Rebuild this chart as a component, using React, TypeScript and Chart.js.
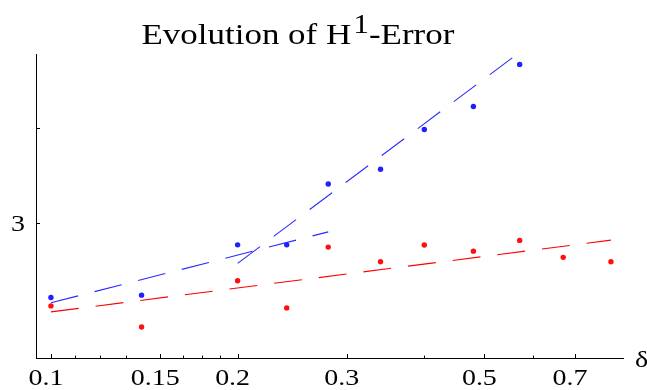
import React, { useEffect, useRef } from "react";
import { Chart, registerables } from "chart.js";

Chart.register(...registerables);

// ---- data ----
const deltas = [0.1, 0.14, 0.2, 0.24, 0.28, 0.34, 0.4, 0.48, 0.57, 0.67, 0.8];
const blueErrors = [2.4, 2.417, 2.813, 2.813, 3.379, 3.532, 3.982, 4.268, 4.846];
const redErrors = [2.34, 2.196, 2.524, 2.326, 2.794, 2.673, 2.811, 2.76, 2.851, 2.709, 2.673];

const redFitX = [0.1, 0.8];
const redFitY = [2.298, 2.853];
const blueFit1X = [0.1, 0.28];
const blueFit1Y = [2.362, 2.925];
const blueFit2X = [0.2, 0.57];
const blueFit2Y = [2.66, 5.025];

const xMajorTicks = [0.1, 0.15, 0.2, 0.3, 0.5, 0.7];
const xTickLabels = ["0.1", "0.15", "0.2", "0.3", "0.5", "0.7"];
const xMinorTicks = [0.1094, 0.1201, 0.1323, 0.1631, 0.1752, 0.1876, 0.4, 0.6];
const yTicks = [3, 4];
const yTickLabels = ["3", ""];
const xRange = [0.0946, 0.8366];
const yRange = [2, 5];

const titleMain = "Evolution of H";
const titleSup = "1";
const titleEnd = "-Error";
const xAxisLabel = "δ";

const SX = 1.165; // horizontal stretch of the reference's text
const SERIF = '"Liberation Serif", "Times New Roman", serif';

function toXY(xs: number[], ys: number[]) {
  return ys.map((y, i) => ({ x: xs[i], y }));
}

function drawText(
  ctx: CanvasRenderingContext2D,
  text: string,
  x: number,
  y: number,
  align: CanvasTextAlign,
  font: string
) {
  ctx.save();
  ctx.translate(x, y);
  ctx.scale(SX, 1);
  ctx.font = font;
  ctx.textAlign = align;
  ctx.textBaseline = "alphabetic";
  ctx.fillStyle = "#000";
  ctx.fillText(text, 0, 0);
  ctx.restore();
}

const decorPlugin = {
  id: "decor",
  afterDraw(chart: any) {
    const ctx: CanvasRenderingContext2D = chart.ctx;
    const xs = chart.scales.x;
    const ys = chart.scales.y;
    const area = chart.chartArea;
    ctx.save();
    ctx.strokeStyle = "#000";
    ctx.lineWidth = 1;
    // x ticks (inside, upward)
    xMajorTicks.forEach((v) => {
      const px = Math.round(xs.getPixelForValue(v)) + 0.5;
      ctx.beginPath();
      ctx.moveTo(px, area.bottom);
      ctx.lineTo(px, area.bottom - 4);
      ctx.stroke();
    });
    xMinorTicks.forEach((v) => {
      const px = Math.round(xs.getPixelForValue(v)) + 0.5;
      ctx.beginPath();
      ctx.moveTo(px, area.bottom);
      ctx.lineTo(px, area.bottom - 2.5);
      ctx.stroke();
    });
    // y ticks (inside, rightward)
    yTicks.forEach((v) => {
      const py = Math.round(ys.getPixelForValue(v)) + 0.5;
      ctx.beginPath();
      ctx.moveTo(area.left, py);
      ctx.lineTo(area.left + 4, py);
      ctx.stroke();
    });
    ctx.restore();

    const tickFont = `24px ${SERIF}`;
    xMajorTicks.forEach((v, i) => {
      const px = xs.getPixelForValue(v);
      drawText(ctx, xTickLabels[i], px - 5, area.bottom + 27, "center", tickFont);
    });
    yTicks.forEach((v, i) => {
      if (!yTickLabels[i]) return;
      const py = ys.getPixelForValue(v);
      drawText(ctx, yTickLabels[i], area.left - 11, py + 8, "right", tickFont);
    });
    drawText(ctx, xAxisLabel, area.right + 12, area.bottom + 9, "left", tickFont);

    // title with superscript
    const tFont = `30px ${SERIF}`;
    const sFont = `27px ${SERIF}`;
    let tx = 141.5;
    const base = 43.5;
    ctx.save();
    ctx.font = tFont;
    const w1 = ctx.measureText(titleMain).width * SX;
    ctx.font = sFont;
    const w2 = ctx.measureText(titleSup).width * SX;
    ctx.restore();
    drawText(ctx, titleMain, tx, base, "left", tFont);
    tx += w1 + 2;
    drawText(ctx, titleSup, tx, base - 11, "left", sFont);
    tx += w2;
    drawText(ctx, titleEnd, tx, base, "left", tFont);
  },
};

export default function App() {
  const ref = useRef<HTMLCanvasElement | null>(null);

  useEffect(() => {
    if (!ref.current) return;
    const dash = [28, 17];
    const chart = new Chart(ref.current, {
      type: "scatter",
      data: {
        datasets: [
          {
            label: "blue",
            data: toXY(deltas, blueErrors),
            showLine: false,
            pointRadius: 2.7,
            pointBorderWidth: 0,
            backgroundColor: "#1f1fff",
            borderColor: "#1f1fff",
          },
          {
            label: "red",
            data: toXY(deltas, redErrors),
            showLine: false,
            pointRadius: 2.7,
            pointBorderWidth: 0,
            backgroundColor: "#ff1010",
            borderColor: "#ff1010",
          },
          {
            label: "red fit",
            data: toXY(redFitX, redFitY),
            showLine: true,
            pointRadius: 0,
            borderColor: "#ff0000",
            borderWidth: 1.1,
            borderDash: dash,
            tension: 0,
          },
          {
            label: "blue fit 1",
            data: toXY(blueFit1X, blueFit1Y),
            showLine: true,
            pointRadius: 0,
            borderColor: "#2a2aff",
            borderWidth: 1.1,
            borderDash: dash,
            tension: 0,
          },
          {
            label: "blue fit 2",
            data: toXY(blueFit2X, blueFit2Y),
            showLine: true,
            pointRadius: 0,
            borderColor: "#2a2aff",
            borderWidth: 1.1,
            borderDash: dash,
            tension: 0,
          },
        ],
      },
      options: {
        animation: false,
        responsive: false,
        maintainAspectRatio: false,
        events: [],
        layout: { padding: { left: 36, right: 24, top: 54, bottom: 32 } },
        plugins: {
          legend: { display: false },
          tooltip: { enabled: false },
          title: { display: false },
        },
        scales: {
          x: {
            type: "logarithmic",
            min: xRange[0],
            max: xRange[1],
            bounds: "data",
            grid: { display: false, drawTicks: false },
            border: { display: true, color: "#000", width: 1 },
            ticks: { display: false },
            afterFit: (s: any) => {
              s.height = 0;
            },
          },
          y: {
            type: "logarithmic",
            min: yRange[0],
            max: yRange[1],
            bounds: "data",
            grid: { display: false, drawTicks: false },
            border: { display: true, color: "#000", width: 1 },
            ticks: { display: false },
            afterFit: (s: any) => {
              s.width = 0;
            },
          },
        },
      },
      plugins: [decorPlugin],
    } as any);
    return () => chart.destroy();
  }, []);

  return (
    <div style={{ position: "absolute", left: 0, top: 0, width: 647, height: 390, background: "#fff" }}>
      <canvas ref={ref} width={647} height={390} style={{ display: "block", width: 647, height: 390 }} />
    </div>
  );
}
